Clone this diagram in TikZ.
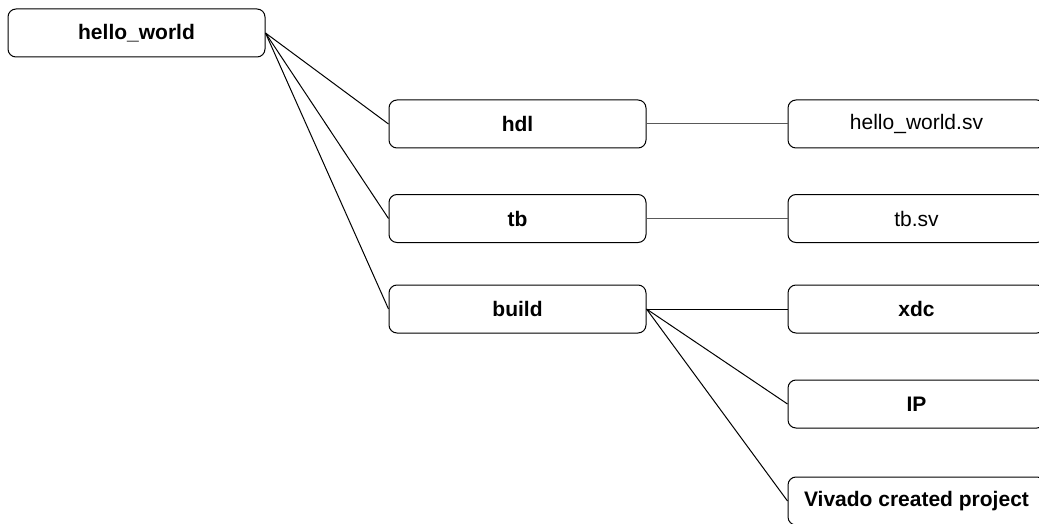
\documentclass[tikz,border=0pt]{standalone}
\usepackage{fontspec}
\setmainfont{Liberation Sans}
\begin{document}
\begin{tikzpicture}[x=1pt,y=-1pt,
  box/.style={draw=black, line width=1pt, rounded corners=8pt, fill=white,
    minimum width=257pt, minimum height=48pt, inner sep=0pt,
    font=\fontsize{21}{25}\selectfont\bfseries},
  plain/.style={box, font=\fontsize{21}{25}\selectfont},
  link/.style={draw=black, line width=1pt},
  softlink/.style={draw=black!65, line width=1pt}]
\useasboundingbox (0,0) rectangle (1039,524);
% folders
\node[box] (root)  at (136.5,33)  {hello\_world};
\node[box] (hdl)   at (517.5,124) {hdl};
\node[box] (tb)    at (517.5,218.5) {tb};
\node[box] (build) at (517.5,309) {build};
% contents
\node[plain] (hwsv)  at (916.5,124)   {hello\_world.sv};
\node[plain] (tbsv)  at (916.5,218.5) {tb.sv};
\node[box]   (xdc)   at (916.5,309)   {xdc};
\node[box]   (ip)    at (916.5,404)   {IP};
\node[box]   (viv)   at (916.5,501)   {Vivado created project};
% connectors
\draw[link] (root.east) -- (hdl.west);
\draw[link] (root.east) -- (tb.west);
\draw[link] (root.east) -- (build.west);
\draw[softlink] (hdl.east) -- (hwsv.west);
\draw[softlink] (tb.east) -- (tbsv.west);
\draw[link] (build.east) -- (xdc.west);
\draw[link] (build.east) -- (ip.west);
\draw[link] (build.east) -- (viv.west);
\end{tikzpicture}
\end{document}
